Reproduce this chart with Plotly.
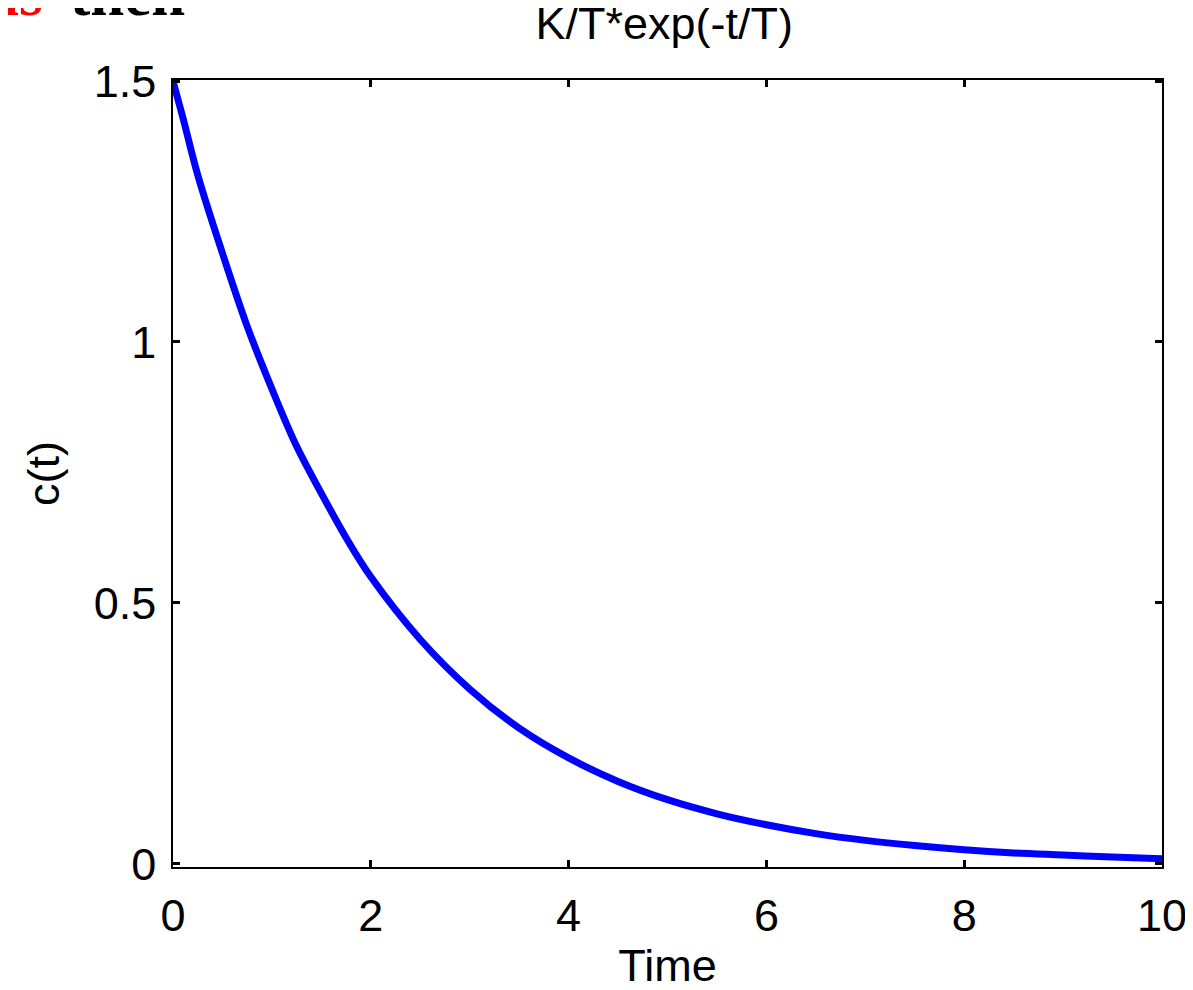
import plotly.graph_objects as go

# values
time = [0, 0.1, 0.25, 0.5, 0.75, 1.0, 1.25, 1.5, 1.75, 2.0, 2.5, 3.0, 3.5, 4.0,
        4.5, 5.0, 5.5, 6.0, 6.5, 7.0, 7.5, 8.0, 8.5, 9.0, 9.5, 10.0]
ct = [1.5, 1.43, 1.32, 1.17, 1.03, 0.91, 0.80, 0.71, 0.625, 0.55, 0.43, 0.335,
      0.26, 0.203, 0.158, 0.123, 0.096, 0.075, 0.058, 0.045, 0.035, 0.027,
      0.021, 0.017, 0.013, 0.010]

x_ticks = [0, 2, 4, 6, 8, 10]
y_ticks = [0, 0.5, 1, 1.5]

font = "Liberation Sans, Arial, sans-serif"

fig = go.Figure()
fig.add_trace(go.Scatter(x=time, y=ct, mode="lines",
                         line=dict(color="#0000ff", width=7, shape="spline")))

axis_style = dict(showgrid=False, zeroline=False, showline=True, linecolor="black",
                  linewidth=1.5, mirror="ticks", ticks="inside", ticklen=7,
                  tickwidth=3, tickcolor="black", automargin=False,
                  tickfont=dict(family=font, size=45, color="black"))

fig.update_xaxes(range=[0, 10], tickvals=x_ticks, ticklabelstandoff=8,
                 title=dict(text="Time", font=dict(family=font, size=45, color="black"),
                            standoff=10),
                 **axis_style)
fig.update_yaxes(range=[-0.006, 1.502], tickvals=y_ticks, ticklabelstandoff=6,
                 title=dict(text="c(t)", font=dict(family=font, size=45, color="black"),
                            standoff=20),
                 **axis_style)

# cut-off caption fragment from the page above the figure
caption_font = dict(family="Liberation Serif", size=61, weight="bold")
fig.add_annotation(text="is", xref="paper", yref="paper",
                   x=-0.1749, y=1.064, xanchor="left", yanchor="bottom", showarrow=False,
                   font=dict(color="red", **caption_font))
fig.add_annotation(text="then", xref="paper", yref="paper",
                   x=-0.1062, y=1.064, xanchor="left", yanchor="bottom", showarrow=False,
                   font=dict(color="black", **caption_font))

# page body adds an 8px offset, so margins are shifted to compensate
fig.update_layout(
    width=1193, height=990,
    margin=dict(l=165, r=39, t=72, b=131),
    plot_bgcolor="white", paper_bgcolor="white",
    showlegend=False,
    title=dict(text="K/T*exp(-t/T)", x=0.550, xanchor="center", yref="container",
               y=0.985, yanchor="middle",
               font=dict(family=font, size=45, color="black")),
)

fig.write_html("out.html")
